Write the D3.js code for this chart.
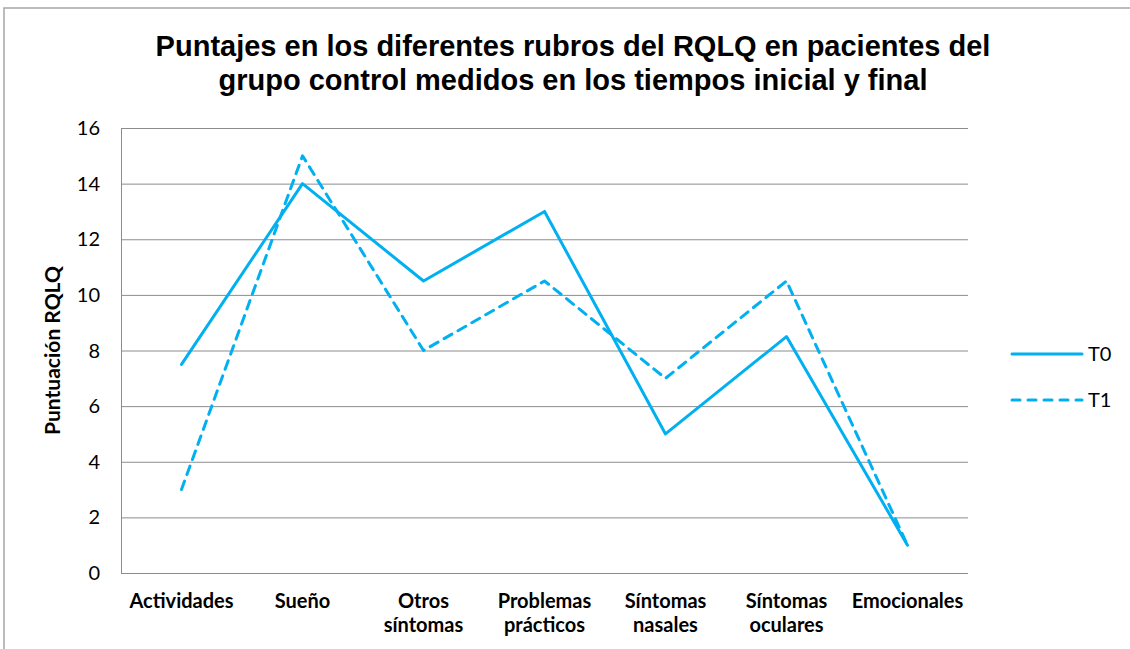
<!DOCTYPE html>
<html>
<head>
<meta charset="utf-8">
<script src="https://cdn.jsdelivr.net/npm/d3@7"></script>
<style>
  body { margin: 0; background: #fff; }
</style>
</head>
<body>
<div id="chart"></div>
<script>
// chart data
const categories = [
  ["Actividades"],
  ["Sueño"],
  ["Otros", "síntomas"],
  ["Problemas", "prácticos"],
  ["Síntomas", "nasales"],
  ["Síntomas", "oculares"],
  ["Emocionales"]
];
const t0 = [7.5, 14, 10.5, 13, 5, 8.5, 1];
const t1 = [3, 15, 8, 10.5, 7, 10.5, 1];
const yTicks = [0, 2, 4, 6, 8, 10, 12, 14, 16];
const titleLines = [
  "Puntajes en los diferentes rubros del RQLQ en pacientes del",
  "grupo control medidos en los tiempos inicial y final"
];

const width = 1130, height = 649;
const margin = { top: 128, right: 162, bottom: 76, left: 121 };
const blue = "#00B0F0";
const labelFont = "Lato, 'Open Sans', sans-serif";

const svg = d3.select("#chart").append("svg")
  .attr("width", width)
  .attr("height", height)
  .attr("viewBox", [0, 0, width, height]);

// outer frame (only top and left edges show)
svg.append("path")
  .attr("fill", "none")
  .attr("stroke", "#a6a6a6")
  .attr("stroke-width", 1.5)
  .attr("d", `M4,${height} V8 H${width}`);

const x = d3.scaleBand()
  .domain(d3.range(categories.length))
  .range([margin.left, width - margin.right]);

const y = d3.scaleLinear()
  .domain([0, 16])
  .range([height - margin.bottom, margin.top]);

// gridlines
svg.append("g")
  .selectAll("line")
  .data(yTicks)
  .join("line")
  .attr("x1", margin.left)
  .attr("x2", width - margin.right)
  .attr("y1", d => y(d) + 0.5)
  .attr("y2", d => y(d) + 0.5)
  .attr("stroke", "#8c8c8c")
  .attr("stroke-width", 1);

// left axis line
svg.append("line")
  .attr("x1", margin.left + 0.5)
  .attr("x2", margin.left + 0.5)
  .attr("y1", y(16))
  .attr("y2", y(0) + 0.5)
  .attr("stroke", "#8c8c8c");

// y tick labels
svg.append("g")
  .selectAll("text")
  .data(yTicks)
  .join("text")
  .attr("x", margin.left - 21)
  .attr("y", d => y(d))
  .attr("dy", "0.35em")
  .attr("text-anchor", "end")
  .attr("font-family", labelFont)
  .attr("font-size", 20)
  .attr("fill", "#000")
  .text(d => d);

// x category labels
const xl = svg.append("g")
  .selectAll("text")
  .data(categories)
  .join("text")
  .attr("x", (d, i) => x(i) + x.bandwidth() / 2)
  .attr("y", 608)
  .attr("text-anchor", "middle")
  .attr("font-family", labelFont)
  .attr("font-size", 20)
  .attr("font-weight", "bold")
  .attr("fill", "#000");
xl.selectAll("tspan")
  .data(d => d)
  .join("tspan")
  .attr("x", function () { return d3.select(this.parentNode).attr("x"); })
  .attr("dy", (d, i) => i === 0 ? 0 : 24)
  .text(d => d);

// y axis title
svg.append("text")
  .attr("transform", `translate(60,${(y(0) + y(16)) / 2}) rotate(-90)`)
  .attr("text-anchor", "middle")
  .attr("font-family", labelFont)
  .attr("font-size", 21)
  .attr("font-weight", "bold")
  .text("Puntuación RQLQ");

// title
svg.append("g")
  .selectAll("text")
  .data(titleLines)
  .join("text")
  .attr("x", 573)
  .attr("y", (d, i) => 56 + i * 34)
  .attr("text-anchor", "middle")
  .attr("font-family", "'Liberation Sans', Arial, sans-serif")
  .attr("font-size", 29)
  .attr("font-weight", "bold")
  .text(d => d);

// lines
const line = d3.line()
  .x((d, i) => x(i) + x.bandwidth() / 2)
  .y(d => y(d));

const series = [
  { name: "T0", values: t0, dash: null },
  { name: "T1", values: t1, dash: "9,7" }
];

svg.append("g")
  .selectAll("path")
  .data(series)
  .join("path")
  .attr("fill", "none")
  .attr("stroke", blue)
  .attr("stroke-width", 3)
  .attr("stroke-linejoin", "round")
  .attr("stroke-linecap", "round")
  .attr("stroke-dasharray", d => d.dash)
  .attr("d", d => line(d.values));

// legend
const legend = svg.append("g")
  .selectAll("g")
  .data(series)
  .join("g")
  .attr("transform", (d, i) => `translate(1012,${354 + i * 46})`);
legend.append("line")
  .attr("x1", 0)
  .attr("x2", 70)
  .attr("stroke", blue)
  .attr("stroke-width", 3)
  .attr("stroke-linecap", "round")
  .attr("stroke-dasharray", d => d.dash ? "8,8" : null);
legend.append("text")
  .attr("x", 76)
  .attr("dy", "0.35em")
  .attr("font-family", labelFont)
  .attr("font-size", 20)
  .text(d => d.name);
</script>
</body>
</html>
